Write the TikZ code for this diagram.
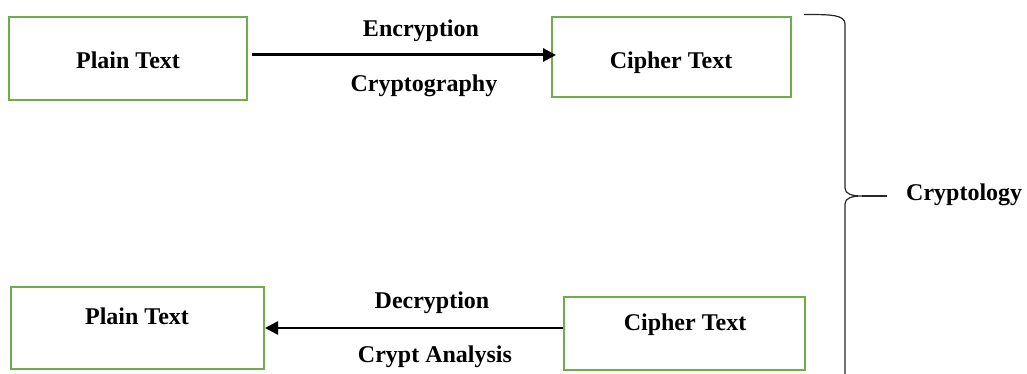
\documentclass[tikz,border=0pt]{standalone}
\usepackage{fontspec}
\setmainfont{Liberation Serif}
\usetikzlibrary{arrows.meta}
\definecolor{boxgreen}{RGB}{112,173,71}
\begin{document}
\begin{tikzpicture}[x=1pt,y=-1pt,
  box/.style={draw=boxgreen,line width=2pt,rectangle,inner sep=0pt},
  lbl/.style={font=\fontsize{24}{28}\selectfont\bfseries,inner sep=0pt},
  arr/.style={-{Triangle[length=13pt,width=13pt]},line width=3pt}]
\useasboundingbox (0,0) rectangle (1027,374);
% boxes
\node[box,minimum width=238pt,minimum height=83pt] (pt1) at (128,58.5) {};
\node[box,minimum width=239pt,minimum height=80pt] (ct1) at (671.5,57) {};
\node[box,minimum width=253pt,minimum height=82pt] (pt2) at (137.5,328) {};
\node[box,minimum width=241pt,minimum height=73pt] (ct2) at (684.5,333.5) {};
% box texts
\node[lbl] (tpt1) at (128,60) {Plain Text};
\node[lbl] (tct1) at (671,63) {Cipher Text};
\node[lbl] (tpt2) at (137,316) {Plain Text};
\node[lbl] (tct2) at (685,325) {Cipher Text};
% arrows
\coordinate (a1s) at (252,55);
\coordinate (a1e) at (556,55);
\draw[arr] (a1s) -- (a1e);
\coordinate (a2s) at (ct2.west |- 0,328);
\coordinate (a2e) at (pt2.east |- 0,328);
\draw[arr,line width=2.5pt] (a2s) -- (a2e);
% arrow labels
\node[lbl] (enc) at (421,31) {Encryption};
\node[lbl] (cry) at (424,86) {Cryptography};
\node[lbl] (dec) at (432,303) {Decryption};
\node[lbl] (ca) at (435,357) {Crypt Analysis};
% brace
\coordinate (b1) at (804,14.5);
\coordinate (tip) at (862,196);
\coordinate (tipend) at (887,196);
\draw[line width=1.2pt,draw=black!85]
  (b1) .. controls (830,14.5) and (845,14.5) .. (845,24)
  -- (845,188) .. controls (845,194) and (852,196) .. (tip)
  .. controls (852,196) and (845,198) .. (845,204)
  -- (845,376);
\draw[line width=1.2pt,draw=black!85] (tip) -- (tipend);
\node[lbl,anchor=west] (clg) at (906,195) {Cryptology};
\end{tikzpicture}
\end{document}
